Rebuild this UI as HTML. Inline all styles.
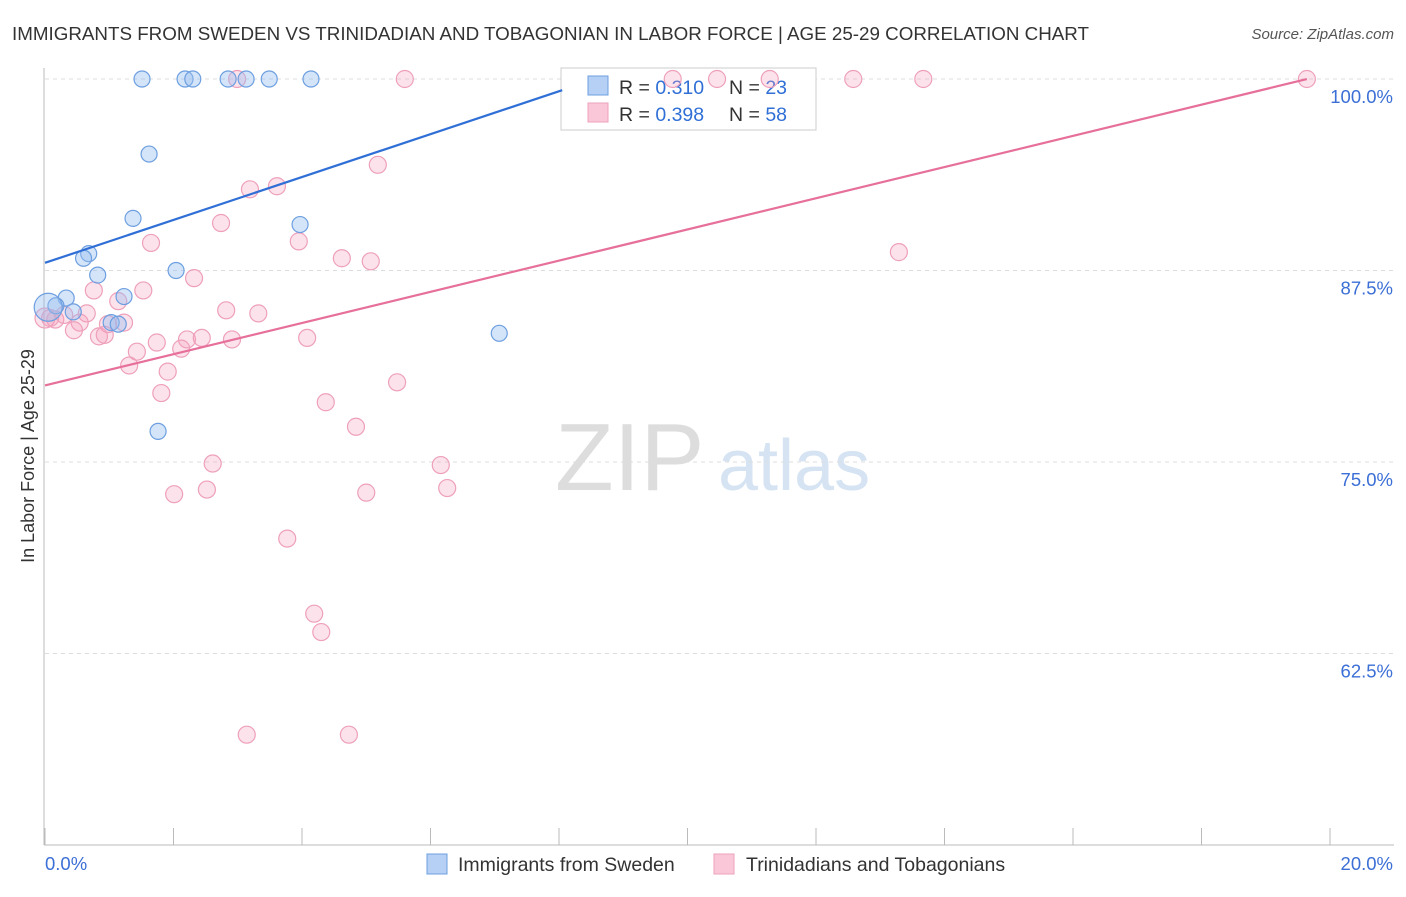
<!DOCTYPE html>
<html><head><meta charset="utf-8"><style>
body{margin:0;background:#fff;font-family:"Liberation Sans",sans-serif;}
svg text{font-family:"Liberation Sans",sans-serif;}
</style></head><body>
<svg id="c" width="1406" height="892">
<text x="12" y="40" font-size="18.8" fill="#333">IMMIGRANTS FROM SWEDEN VS TRINIDADIAN AND TOBAGONIAN IN LABOR FORCE | AGE 25-29 CORRELATION CHART</text>
<text x="1394" y="39" font-size="15" fill="#555" font-style="italic" text-anchor="end">Source: ZipAtlas.com</text>
<text x="555" y="490" font-size="96" fill="#ddd" font-family="Liberation Serif">ZIP</text>
<text x="718" y="490" font-size="72" fill="#d5e3f3">atlas</text>
<text transform="translate(34,456) rotate(-90)" font-size="18" fill="#333" text-anchor="middle">In Labor Force | Age 25-29</text>
<g id="g"></g>
</svg>
<script>
const blueX=[1.51,2.18,2.30,2.85,3.13,3.49,4.14,1.62,1.37,3.97,0.68,0.60,0.82,2.04,0.33,1.23,0.17,0.44,1.03,1.14,7.07,1.76,0.05];
const blueY=[100,100,100,100,100,100,100,95.1,90.9,90.5,88.6,88.3,87.2,87.5,85.7,85.8,85.2,84.8,84.1,84.0,83.4,77.0,85.1];
const pinkX=[2.99,5.60,9.77,10.46,11.28,12.58,13.67,19.64,5.18,3.19,3.61,2.74,1.65,3.95,4.62,5.07,13.29,2.32,1.53,0.76,1.14,2.82,3.32,0.65,0.08,0.54,0.98,1.23,0.45,0.84,0.93,2.21,2.44,2.91,4.08,1.74,1.43,2.12,1.31,1.91,1.81,5.48,4.37,4.84,2.61,6.16,2.01,2.52,5.00,6.26,3.77,4.19,4.30,3.14,4.73,0.16,0.30,0.0];
const pinkY=[100,100,100,100,100,100,100,100,94.4,92.8,93.0,90.6,89.3,89.4,88.3,88.1,88.7,87.0,86.2,86.2,85.5,84.9,84.7,84.7,84.4,84.1,84.0,84.1,83.6,83.2,83.3,83.0,83.1,83.0,83.1,82.8,82.2,82.4,81.3,80.9,79.5,80.2,78.9,77.3,74.9,74.8,72.9,73.2,73.0,73.3,70.0,65.1,63.9,57.2,57.2,84.3,84.6,84.4];
const yTicks=[100,87.5,75,62.5];
const yTickLabels=["100.0%","87.5%","75.0%","62.5%"];
const blueLine=[88.0,1.40,0,8.05];
const pinkLine=[80.0,1.018,0,19.64];
const X=v=>45+v*64.25, Y=v=>79+(100-v)*15.32;
const g=document.getElementById('g'),NS='http://www.w3.org/2000/svg';
function mk(t,a,p){const e=document.createElementNS(NS,t);for(const k in a)e.setAttribute(k,a[k]);(p||g).appendChild(e);return e;}
yTicks.forEach((v,i)=>{
 const l=mk('line',{x1:45,x2:1394,y1:Y(v),y2:Y(v),stroke:'#ddd','stroke-dasharray':'4,4'});
 
 
 const t=mk('text',{x:1393,y:Y(v)+24,'font-size':18.5,fill:'#3b6fd6','text-anchor':'end'});t.textContent=yTickLabels[i];
 
 
});
const ax=mk('line',{x1:44,x2:44,y1:68,y2:845,stroke:'#bbb'});


const bx=mk('line',{x1:44,x2:1394,y1:845,y2:845,stroke:'#bbb'});


for(let i=0;i<=10;i++){const t=mk('line',{x1:X(i*2),x2:X(i*2),y1:828,y2:845,stroke:'#bbb'});
 
 }
[['0.0%',45,'start'],['20.0%',1393,'end']].forEach(a=>{const t=mk('text',{x:a[1],y:870,'font-size':18.5,fill:'#3b6fd6','text-anchor':a[2]});t.textContent=a[0];
 
 });
// legend box
const lg=mk('g',{});


mk('rect',{x:561,y:68,width:255,height:62,fill:'#fff',stroke:'#ccc'},lg);
mk('rect',{x:588,y:76,width:20,height:19,fill:'#b6d0f5',stroke:'#6d9fe0'},lg);
mk('rect',{x:588,y:103,width:20,height:19,fill:'#f9c7d7',stroke:'#eea0bb'},lg);
[[94,'0.310','23'],[121,'0.398','58']].forEach(r=>{
 let t=mk('text',{x:619,y:r[0],'font-size':19.5,fill:'#333'},lg);t.innerHTML='R = <tspan fill="#2f6fd6">'+r[1]+'</tspan>';
 t=mk('text',{x:729,y:r[0],'font-size':19.5,fill:'#333'},lg);t.innerHTML='N = <tspan fill="#2f6fd6">'+r[2]+'</tspan>';});
pinkX.forEach((x,i)=>{const c=mk('circle',{cx:X(x),cy:Y(pinkY[i]),r:i==pinkX.length-1?10:8.5,fill:'rgba(244,160,190,0.3)',stroke:'#eea0bb','stroke-width':1.2});
 
 });
blueX.forEach((x,i)=>{const c=mk('circle',{cx:X(x),cy:Y(blueY[i]),r:i==blueX.length-1?14:8,fill:'rgba(150,190,240,0.4)',stroke:'#6d9fe0','stroke-width':1.2});
 
 });
[[blueLine,'#2f6fd6','trend-line-sweden'],[pinkLine,'#e6709a','trend-line-trinidadian']].forEach(a=>{const L=a[0];
 const l=mk('line',{x1:X(L[2]),y1:Y(L[0]+L[1]*L[2]),x2:X(L[3]),y2:Y(L[0]+L[1]*L[3]),stroke:a[1],'stroke-width':2.2});
 
 });
// bottom legend
const bl=mk('g',{});


mk('rect',{x:427,y:854,width:20,height:20,fill:'#b6d0f5',stroke:'#6d9fe0'},bl);
mk('rect',{x:714,y:854,width:20,height:20,fill:'#f9c7d7',stroke:'#eea0bb'},bl);
let t=mk('text',{x:458,y:871,'font-size':19.5,fill:'#333'},bl);t.textContent='Immigrants from Sweden';
t=mk('text',{x:746,y:871,'font-size':19.5,fill:'#333'},bl);t.textContent='Trinidadians and Tobagonians';
</script>
</body></html>
